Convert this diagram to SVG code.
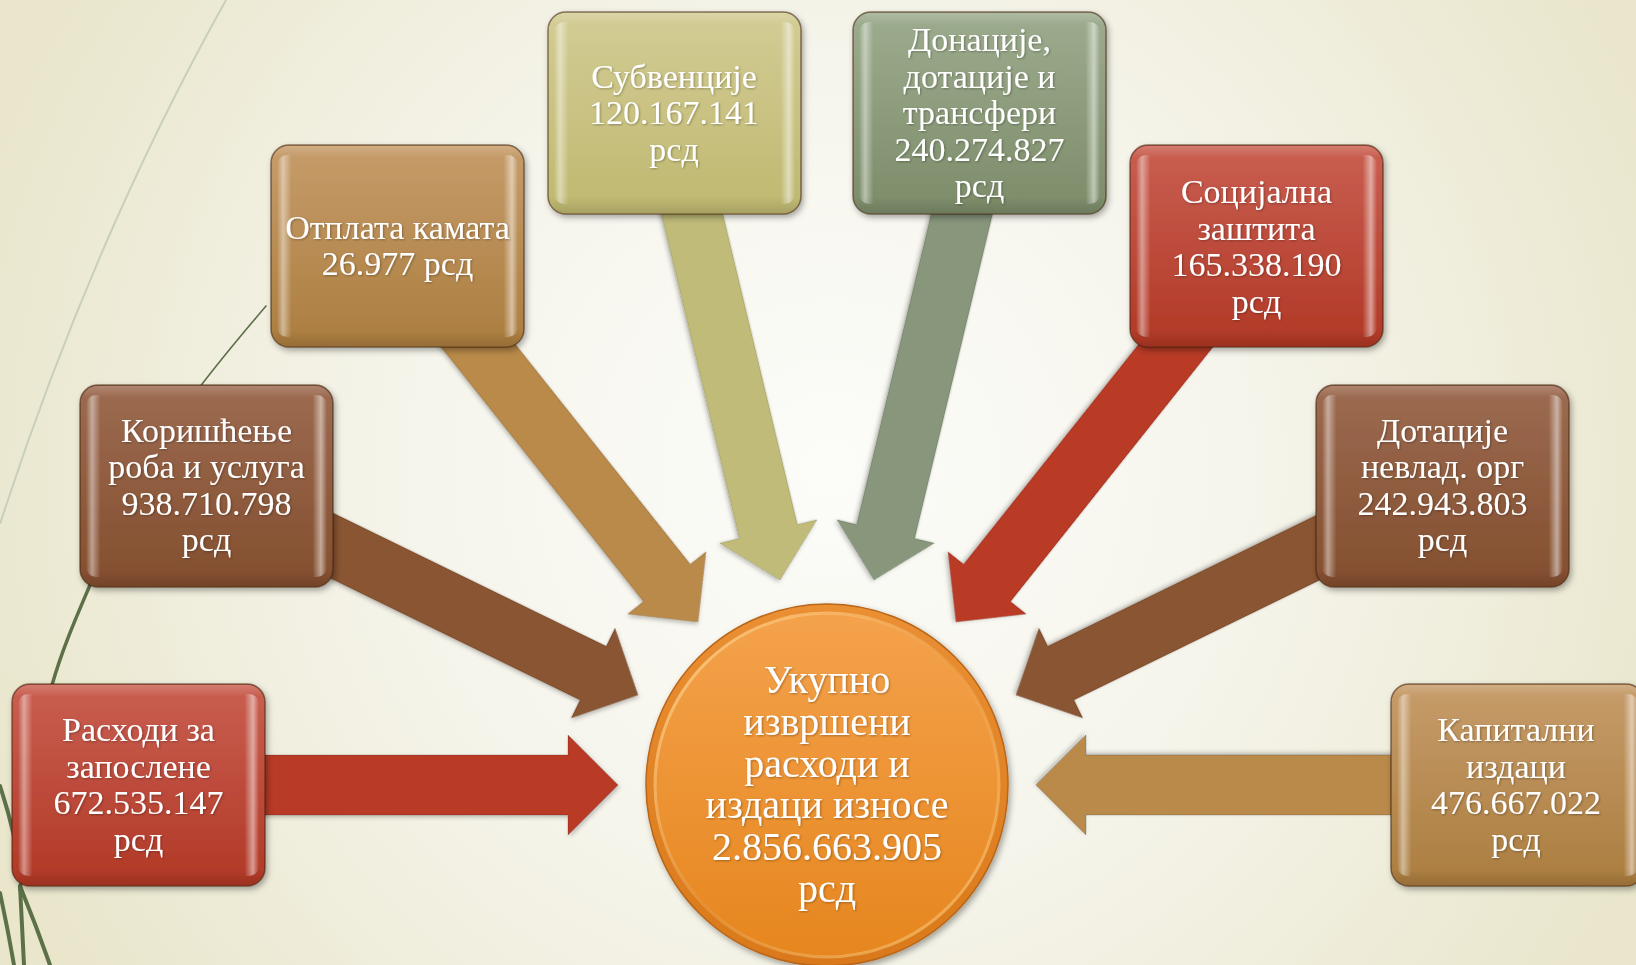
<svg xmlns="http://www.w3.org/2000/svg" width="1636" height="965" viewBox="0 0 1636 965">
<defs>
  <radialGradient id="bg" cx="830" cy="470" r="900" gradientUnits="userSpaceOnUse">
    <stop offset="0" stop-color="#fcfcf9"/>
    <stop offset="0.45" stop-color="#f6f5ec"/>
    <stop offset="1" stop-color="#e9e6cc"/>
  </radialGradient>
  <linearGradient id="gRed" x1="0" y1="0" x2="0" y2="1">
    <stop offset="0" stop-color="#c95f51"/><stop offset="1" stop-color="#b13826"/>
  </linearGradient>
  <linearGradient id="gBrown" x1="0" y1="0" x2="0" y2="1">
    <stop offset="0" stop-color="#9c6b51"/><stop offset="1" stop-color="#834e2e"/>
  </linearGradient>
  <linearGradient id="gTan" x1="0" y1="0" x2="0" y2="1">
    <stop offset="0" stop-color="#c69c6a"/><stop offset="1" stop-color="#ab7d3f"/>
  </linearGradient>
  <linearGradient id="gOlive" x1="0" y1="0" x2="0" y2="1">
    <stop offset="0" stop-color="#d3cc95"/><stop offset="1" stop-color="#bfb870"/>
  </linearGradient>
  <linearGradient id="gGreen" x1="0" y1="0" x2="0" y2="1">
    <stop offset="0" stop-color="#9dac8e"/><stop offset="1" stop-color="#7c8c69"/>
  </linearGradient>
  <linearGradient id="hl" x1="0" y1="0" x2="1" y2="0">
    <stop offset="0" stop-color="#fff" stop-opacity="0"/>
    <stop offset="0.025" stop-color="#fff" stop-opacity="0.45"/>
    <stop offset="0.06" stop-color="#fff" stop-opacity="0"/>
    <stop offset="0.94" stop-color="#fff" stop-opacity="0"/>
    <stop offset="0.975" stop-color="#fff" stop-opacity="0.5"/>
    <stop offset="1" stop-color="#fff" stop-opacity="0"/>
  </linearGradient>
  <linearGradient id="hlv" x1="0" y1="0" x2="0" y2="1">
    <stop offset="0" stop-color="#fff" stop-opacity="0.18"/>
    <stop offset="0.06" stop-color="#fff" stop-opacity="0"/>
    <stop offset="0.92" stop-color="#000" stop-opacity="0"/>
    <stop offset="1" stop-color="#000" stop-opacity="0.12"/>
  </linearGradient>
  <linearGradient id="gCircOuter" x1="0" y1="0" x2="0" y2="1">
    <stop offset="0" stop-color="#ea8f33"/><stop offset="1" stop-color="#d9791a"/>
  </linearGradient>
  <linearGradient id="gCircInner" x1="0" y1="0" x2="0" y2="1">
    <stop offset="0" stop-color="#f4a24c"/><stop offset="1" stop-color="#e6861e"/>
  </linearGradient>
  <linearGradient id="gRing" x1="0" y1="0" x2="1" y2="1">
    <stop offset="0" stop-color="#ffd38e" stop-opacity="0.9"/>
    <stop offset="0.5" stop-color="#ffd38e" stop-opacity="0.2"/>
    <stop offset="1" stop-color="#ffcf7a" stop-opacity="0.7"/>
  </linearGradient>
  <filter id="sh" x="-10%" y="-10%" width="125%" height="125%">
    <feDropShadow dx="2" dy="3" stdDeviation="3" flood-color="#000" flood-opacity="0.35"/>
  </filter>
  <filter id="ash" x="-10%" y="-10%" width="125%" height="125%">
    <feDropShadow dx="1.5" dy="2" stdDeviation="2" flood-color="#000" flood-opacity="0.25"/>
  </filter>
  <filter id="tsh" x="-5%" y="-20%" width="110%" height="140%">
    <feDropShadow dx="1" dy="1" stdDeviation="0.8" flood-color="#000" flood-opacity="0.3"/>
  </filter>
  <polygon id="arr" points="0,0 -50,-50 -50,-30 -430,-30 -430,30 -50,30 -50,50"/>
</defs>
<style>
  .box { stroke: rgba(60,30,10,0.55); stroke-width: 1.5; filter: url(#sh); }
  .hl { fill: url(#hl); }
  .hlv { fill: url(#hlv); }
  .t { fill: #ffffff; font-family: "Liberation Serif", "Times New Roman", serif; font-size: 34px; text-anchor: middle; filter: url(#tsh); }
  .tc { font-size: 40px; }
  .a { filter: url(#ash); stroke: rgba(0,0,0,0.15); stroke-width: 1; }
  .deco { fill: none; stroke: #5d7148; stroke-linecap: round; }
</style>

<rect x="0" y="0" width="1636" height="965" fill="url(#bg)"/>

<g id="background-lines">
  <path d="M226,0 Q92,240 0,524" fill="none" stroke="#c9cfbb" stroke-width="2"/>
  <path class="deco" d="M266,306 C220,360 170,420 140,480" stroke-width="1.6"/>
  <path class="deco" d="M140,480 C110,540 100,560 90,585 C75,620 62,650 52,685 C40,760 28,830 20,890" stroke-width="3.5"/>
  <path class="deco" d="M0,786 Q8,810 14,836" stroke-width="4"/>
  <path class="deco" d="M20,886 Q36,925 50,965" stroke-width="4"/>
  <path class="deco" d="M20,886 Q22,925 24,965" stroke-width="4"/>
  <path class="deco" d="M0,893 Q8,930 14,965" stroke-width="4"/>
</g>

<g id="connectors">
  <use href="#arr" class="a" fill="#b93b26" transform="translate(618,785) rotate(0)"/>
  <use href="#arr" class="a" fill="#8a5532" transform="translate(638,695) rotate(26)"/>
  <use href="#arr" class="a" fill="#b98a4a" transform="translate(698,622) rotate(51.5)"/>
  <use href="#arr" class="a" fill="#c0bb79" transform="translate(780,580) rotate(76.5)"/>
  <use href="#arr" class="a" fill="#88967b" transform="translate(874,580) rotate(103.5)"/>
  <use href="#arr" class="a" fill="#b93b26" transform="translate(956,622) rotate(128.5)"/>
  <use href="#arr" class="a" fill="#8a5532" transform="translate(1016,695) rotate(154)"/>
  <use href="#arr" class="a" fill="#b98a4a" transform="translate(1036,785) rotate(180)"/>
</g>

<g id="node-rashodi-zaposlene">
  <rect class="box" x="12" y="684" width="253" height="202" rx="18" fill="url(#gRed)"/>
  <rect class="hl" x="18" y="694" width="241" height="182" rx="10"/>
  <rect class="hlv" x="13" y="685" width="251" height="200" rx="17"/>
  <text class="t"><tspan x="138.5" y="741">Расходи за</tspan><tspan x="138.5" y="778">запослене</tspan><tspan x="138.5" y="814">672.535.147</tspan><tspan x="138.5" y="851">рсд</tspan></text>
</g>

<g id="node-koriscenje">
  <rect class="box" x="80" y="385" width="253" height="202" rx="18" fill="url(#gBrown)"/>
  <rect class="hl" x="86" y="395" width="241" height="182" rx="10"/>
  <rect class="hlv" x="81" y="386" width="251" height="200" rx="17"/>
  <text class="t"><tspan x="206.5" y="442">Коришћење</tspan><tspan x="206.5" y="478">роба и услуга</tspan><tspan x="206.5" y="515">938.710.798</tspan><tspan x="206.5" y="551">рсд</tspan></text>
</g>

<g id="node-otplata">
  <rect class="box" x="271" y="145" width="253" height="202" rx="18" fill="url(#gTan)"/>
  <rect class="hl" x="277" y="155" width="241" height="182" rx="10"/>
  <rect class="hlv" x="272" y="146" width="251" height="200" rx="17"/>
  <text class="t"><tspan x="397.5" y="238.5">Отплата камата</tspan><tspan x="397.5" y="275">26.977 рсд</tspan></text>
</g>

<g id="node-subvencije">
  <rect class="box" x="548" y="12" width="253" height="202" rx="18" fill="url(#gOlive)"/>
  <rect class="hl" x="554" y="22" width="241" height="182" rx="10"/>
  <rect class="hlv" x="549" y="13" width="251" height="200" rx="17"/>
  <text class="t"><tspan x="674" y="87.5">Субвенције</tspan><tspan x="674" y="124">120.167.141</tspan><tspan x="674" y="160.5">рсд</tspan></text>
</g>

<g id="node-donacije">
  <rect class="box" x="853" y="12" width="253" height="202" rx="18" fill="url(#gGreen)"/>
  <rect class="hl" x="859" y="22" width="241" height="182" rx="10"/>
  <rect class="hlv" x="854" y="13" width="251" height="200" rx="17"/>
  <text class="t"><tspan x="979.5" y="51">Донације,</tspan><tspan x="979.5" y="87.5">дотације и</tspan><tspan x="979.5" y="124">трансфери</tspan><tspan x="979.5" y="160.5">240.274.827</tspan><tspan x="979.5" y="197">рсд</tspan></text>
</g>

<g id="node-socijalna">
  <rect class="box" x="1130" y="145" width="253" height="202" rx="18" fill="url(#gRed)"/>
  <rect class="hl" x="1136" y="155" width="241" height="182" rx="10"/>
  <rect class="hlv" x="1131" y="146" width="251" height="200" rx="17"/>
  <text class="t"><tspan x="1256.5" y="203">Социјална</tspan><tspan x="1256.5" y="239.5">заштита</tspan><tspan x="1256.5" y="276">165.338.190</tspan><tspan x="1256.5" y="312.5">рсд</tspan></text>
</g>

<g id="node-dotacije-nevlad">
  <rect class="box" x="1316" y="385" width="253" height="202" rx="18" fill="url(#gBrown)"/>
  <rect class="hl" x="1322" y="395" width="241" height="182" rx="10"/>
  <rect class="hlv" x="1317" y="386" width="251" height="200" rx="17"/>
  <text class="t"><tspan x="1442.5" y="442">Дотације</tspan><tspan x="1442.5" y="478">невлад. орг</tspan><tspan x="1442.5" y="515">242.943.803</tspan><tspan x="1442.5" y="551">рсд</tspan></text>
</g>

<g id="node-kapitalni">
  <rect class="box" x="1391" y="684" width="253" height="202" rx="18" fill="url(#gTan)"/>
  <rect class="hl" x="1397" y="694" width="241" height="182" rx="10"/>
  <rect class="hlv" x="1392" y="685" width="251" height="200" rx="17"/>
  <text class="t"><tspan x="1516" y="741">Капитални</tspan><tspan x="1516" y="778">издаци</tspan><tspan x="1516" y="814">476.667.022</tspan><tspan x="1516" y="851">рсд</tspan></text>
</g>

<g id="node-ukupno">
  <circle cx="827" cy="785" r="181" fill="url(#gCircOuter)" stroke="#b9661a" stroke-width="1.5" filter="url(#sh)"/>
  <circle cx="827" cy="785" r="171" fill="url(#gCircInner)"/>
  <circle cx="827" cy="785" r="172" fill="none" stroke="url(#gRing)" stroke-width="3"/>
  <text class="t tc"><tspan x="827" y="693">Укупно</tspan><tspan x="827" y="735">извршени</tspan><tspan x="827" y="777">расходи и</tspan><tspan x="827" y="818">издаци износе</tspan><tspan x="827" y="860">2.856.663.905</tspan><tspan x="827" y="902">рсд</tspan></text>
</g>
</svg>
